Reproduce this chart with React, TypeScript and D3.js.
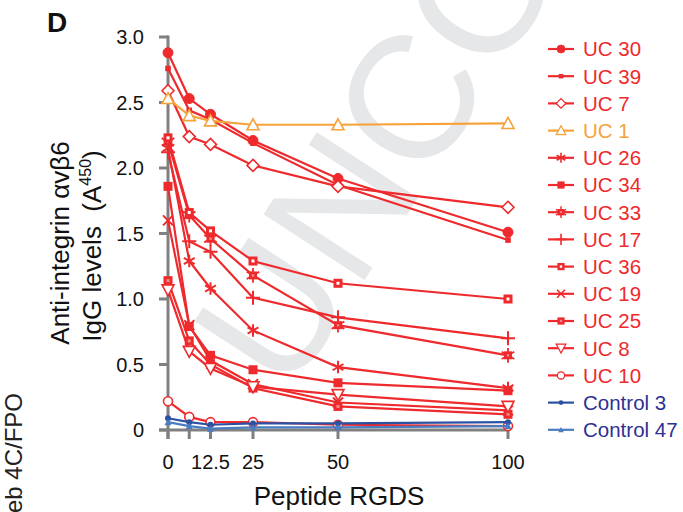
import React from "react";
import * as d3 from "d3";

const doses = [0, 6.25, 12.5, 25, 50, 100];
const xTickLabels = ["0", "", "12.5", "25", "50", "100"];
const yTicks = [0, 0.5, 1, 1.5, 2, 2.5, 3];
const yTickLabels = ["0", "0.5", "1.0", "1.5", "2.0", "2.5", "3.0"];

const seriesNames = [
  "UC 30", "UC 39", "UC 7", "UC 1", "UC 26", "UC 34", "UC 33", "UC 17",
  "UC 36", "UC 19", "UC 25", "UC 8", "UC 10", "Control 3", "Control 47",
];

const uc30 = [2.88, 2.53, 2.41, 2.21, 1.92, 1.51];
const uc39 = [2.76, 2.44, 2.37, 2.19, 1.87, 1.45];
const uc7 = [2.59, 2.24, 2.18, 2.02, 1.86, 1.7];
const uc1 = [2.53, 2.4, 2.36, 2.33, 2.33, 2.34];
const uc26 = [2.15, 1.29, 1.08, 0.76, 0.48, 0.32];
const uc34 = [1.86, 0.79, 0.57, 0.46, 0.36, 0.3];
const uc33 = [2.2, 1.64, 1.46, 1.18, 0.8, 0.57];
const uc17 = [2.12, 1.44, 1.36, 1.01, 0.86, 0.7];
const uc36 = [2.23, 1.66, 1.52, 1.29, 1.12, 1.0];
const uc19 = [1.6, 0.8, 0.53, 0.35, 0.21, 0.15];
const uc25 = [1.14, 0.68, 0.5, 0.32, 0.18, 0.12];
const uc8 = [1.07, 0.6, 0.47, 0.33, 0.27, 0.18];
const uc10 = [0.22, 0.1, 0.06, 0.06, 0.04, 0.03];
const control3 = [0.09, 0.06, 0.04, 0.05, 0.05, 0.06];
const control47 = [0.06, 0.03, 0.01, 0.02, 0.02, 0.03];

const seriesValues = [
  uc30, uc39, uc7, uc1, uc26, uc34, uc33, uc17, uc36, uc19, uc25, uc8, uc10, control3, control47,
];

const RED = "#EE2A2D";
const ORANGE = "#F6A23B";
const BLUE1 = "#2B52A2";
const BLUE2 = "#4A7CC0";
const NAVY = "#2E3192";
const AXIS = "#808080";

const lineColors = [RED, RED, RED, ORANGE, RED, RED, RED, RED, RED, RED, RED, RED, RED, BLUE1, BLUE2];
const textColors = [RED, RED, RED, ORANGE, RED, RED, RED, RED, RED, RED, RED, RED, RED, NAVY, NAVY];
const markers = [
  "dot", "smallSquare", "diamond", "triUp", "asterisk", "square", "squareStar", "plus",
  "squareInner", "times", "square2", "triDown", "circleOpen", "blueDot", "blueTri",
];

const W = 683;
const H = 512;
const x = d3.scaleLinear().domain([0, 100]).range([168, 508]);
const y = d3.scaleLinear().domain([0, 3]).range([430, 37]);

const FONT = "'Liberation Sans', Arial, Helvetica, sans-serif";

function Marker({ kind, color, cx, cy, s = 1 }: { kind: string; color: string; cx: number; cy: number; s?: number }) {
  const sw = 1.6;
  const t = `translate(${cx},${cy}) scale(${s})`;
  switch (kind) {
    case "dot":
      return <circle transform={t} r={5} fill={color} stroke={color} strokeWidth={1} />;
    case "smallSquare":
      return <rect transform={t} x={-2.8} y={-2.8} width={5.6} height={5.6} fill={color} />;
    case "diamond":
      return <path transform={t} d="M0,-6L6,0L0,6L-6,0Z" fill="white" stroke={color} strokeWidth={sw} />;
    case "triUp":
      return <path transform={t} d="M0,-6L6,5L-6,5Z" fill="white" stroke={color} strokeWidth={sw} />;
    case "triDown":
      return <path transform={t} d="M0,6L6,-5L-6,-5Z" fill="white" stroke={color} strokeWidth={sw} />;
    case "asterisk":
      return (
        <path
          transform={t}
          d={d3.symbol().type(d3.symbolAsterisk).size(110)() || ""}
          fill="none"
          stroke={color}
          strokeWidth={2}
        />
      );
    case "square":
      return <rect transform={t} x={-4.5} y={-4.5} width={9} height={9} fill={color} />;
    case "square2":
      return (
        <g transform={t}>
          <rect x={-4.5} y={-4.5} width={9} height={9} fill={color} />
          <rect x={-1.5} y={-1.5} width={3} height={3} fill="#f58a8a" />
        </g>
      );
    case "squareInner":
      return (
        <g transform={t}>
          <rect x={-4.5} y={-4.5} width={9} height={9} fill={color} />
          <rect x={-1.5} y={-1.5} width={3} height={3} fill="white" />
        </g>
      );
    case "squareStar":
      return (
        <g transform={t}>
          <rect x={-4} y={-4} width={8} height={8} fill={color} />
          <path d={d3.symbol().type(d3.symbolAsterisk).size(150)() || ""} fill="none" stroke={color} strokeWidth={1.8} />
          <rect x={-1.2} y={-1.2} width={2.4} height={2.4} fill="#f58a8a" />
        </g>
      );
    case "plus":
      return <path transform={t} d="M-7,0H7M0,-7V7" stroke={color} strokeWidth={2} fill="none" />;
    case "times":
      return <path transform={t} d="M-5,-5L5,5M-5,5L5,-5" stroke={color} strokeWidth={2} fill="none" />;
    case "circleOpen":
      return <circle transform={t} r={4.5} fill="white" stroke={color} strokeWidth={sw} />;
    case "blueDot":
      return <circle transform={t} r={3} fill={color} />;
    case "blueTri":
      return <path transform={t} d="M0,-3.5L3.5,3L-3.5,3Z" fill={color} />;
    default:
      return null;
  }
}

export default function App() {
  const line = d3
    .line<number>()
    .x((_, i) => x(doses[i]))
    .y((d) => y(d));

  const legendY0 = 49;
  const legendStep = 27.2;

  return (
    <svg
      width={W}
      height={H}
      viewBox={`0 0 ${W} ${H}`}
      style={{ position: "absolute", left: 0, top: 0, background: "white" }}
      fontFamily={FONT}
    >
      <rect x={0} y={0} width={W} height={H} fill="white" />
      {/* watermark */}
      <text
        x={0}
        y={0}
        transform="translate(288,398) rotate(-57)"
        fontSize={175}
        fill="#E6E7E8"
        fontFamily={FONT}
      >
        UNCORRECTED PROOF
      </text>

      {/* Panel letter */}
      <text x={47} y={32} fontSize={28} fontWeight="bold" fill="#111">D</text>

      {/* side text */}
      <text transform="translate(22,393) rotate(-90)" textAnchor="end" fontSize={24} fill="#222">
        Web 4C/FPO
      </text>

      {/* y-axis title */}
      <text transform="translate(69,243) rotate(-90)" textAnchor="middle" fontSize={26} fill="#111">
        Anti-integrin αvβ6
      </text>
      <text transform="translate(101,246) rotate(-90)" textAnchor="middle" fontSize={26} fill="#111">
        IgG levels{"\u00A0\u00A0"}(A<tspan fontSize={16} dy={-10}>450</tspan>
        <tspan dy={10}>)</tspan>
      </text>

      {/* axes */}
      <g stroke={AXIS} strokeWidth={3} fill="none">
        <line x1={x(0)} x2={x(0)} y1={y(3) - 1.5} y2={y(0) + 9} />
        <line x1={159} x2={x(100) + 1.5} y1={y(0)} y2={y(0)} />
        {yTicks.map((t) => (
          <line key={"yt" + t} x1={159} x2={x(0)} y1={y(t)} y2={y(t)} />
        ))}
        {doses.map((d) => (
          <line key={"xt" + d} x1={x(d)} x2={x(d)} y1={y(0)} y2={y(0) + 9} />
        ))}
      </g>
      {yTicks.map((t, i) => (
        <text key={"ytl" + t} x={144} y={y(t)} dy="0.35em" textAnchor="end" fontSize={20} fill="#111">
          {yTickLabels[i]}
        </text>
      ))}
      {doses.map((d, i) => (
        <text key={"xtl" + d} x={x(d)} y={469} textAnchor="middle" fontSize={20} fill="#111">
          {xTickLabels[i]}
        </text>
      ))}
      <text x={339} y={505} textAnchor="middle" fontSize={26} fill="#111">
        Peptide RGDS
      </text>

      {/* series */}
      {seriesValues.map((vals, si) => (
        <g key={"s" + si}>
          <path d={line(vals) || ""} fill="none" stroke={lineColors[si]} strokeWidth={2.2} />
          {vals.map((v, i) => (
            <Marker key={i} kind={markers[si]} color={lineColors[si]} cx={x(doses[i])} cy={y(v)} />
          ))}
        </g>
      ))}

      {/* legend */}
      {seriesNames.map((name, i) => {
        const ly = legendY0 + i * legendStep;
        return (
          <g key={"lg" + i}>
            <line x1={548} x2={574} y1={ly} y2={ly} stroke={lineColors[i]} strokeWidth={2.2} />
            <Marker kind={markers[i]} color={lineColors[i]} cx={561} cy={ly} s={0.8} />
            <text x={583} y={ly} dy="0.36em" fontSize={20.5} fill={textColors[i]}>
              {name}
            </text>
          </g>
        );
      })}
    </svg>
  );
}
